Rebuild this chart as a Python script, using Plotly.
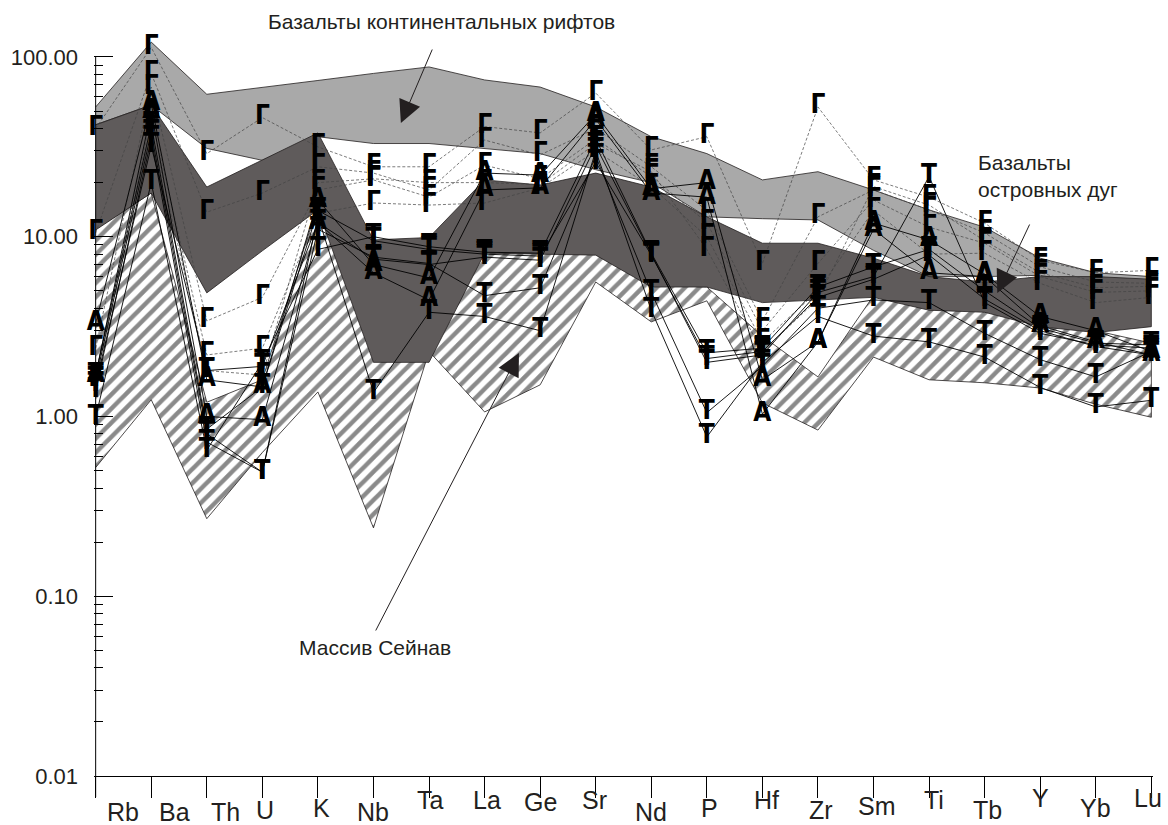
import plotly.graph_objects as go

# ---------------- data ----------------
ELEMENTS = ["Rb", "Ba", "Th", "U", "K", "Nb", "Ta", "La", "Ge", "Sr",
            "Nd", "P", "Hf", "Zr", "Sm", "Ti", "Tb", "Y", "Yb", "Lu"]

# Continental rift basalts field (light grey)
RIFT_HI = [52.7, 121, 62, 68, 74, 81, 88, 74.5, 68, 52.7, 36, 29, 20.7, 23, 18.2, 14.1, 11.3, 7.6, 6.3, 6.0]
RIFT_LO = [42, 54, 31, 26.6, 36, 33, 33, 31, 29, 23.6, 20, 12.9, 12.6, 12.4, 8.4, 6.0, 6.0, 6.1, 5.4, 5.2]

# Island arc basalts field (dark grey)
ARC_HI = [41.9, 54, 18.9, 26.6, 37.8, 9.6, 9.9, 20.7, 19.4, 22.6, 18.9, 12.9, 9.2, 9.2, 7.6, 6.0, 5.6, 6.0, 6.0, 5.8]
ARC_LO = [10.9, 17.5, 4.87, 8.35, 14.1, 2.0, 2.0, 8.1, 8.0, 7.9, 5.25, 5.25, 4.3, 4.45, 4.6, 3.9, 3.8, 3.16, 2.93, 3.16]

# Seinav massif field (hatched)
SEIN_HI = [11, 17.5, 1.2, 1.6, 15, 9, 9, 8.2, 8.1, 8.0, 5.4, 5.25, 2.8, 1.66, 4.7, 4.0, 3.9, 3.3, 3.0, 2.56]
SEIN_LO = [0.52, 1.24, 0.27, 0.63, 1.37, 0.24, 2.3, 1.06, 1.5, 5.6, 3.36, 4.4, 1.19, 0.84, 2.14, 1.6, 1.54, 1.44, 1.17, 0.99]

# Samples, group "Г"
G1 = [40, 113, 29, 46, 31.6, 24.5, 24.5, 41, 37.8, 63, 30.4, 36, 7.1, 52.7, 20.7, 16.6, 11.9, 7.4, 6.3, 6.5]
G2 = [10.5, 81, 13.7, 17.5, 24.5, 22.6, 18.2, 34.5, 28.5, 40, 24.5, 14, 3.4, 12.9, 18.2, 14.1, 10.5, 6.8, 5.6, 5.5]
G3 = [2.4, 68, 3.4, 4.6, 18.2, 20.7, 16.6, 25, 21, 35, 21.6, 12, 3.0, 7.1, 16, 11.3, 9.2, 6.0, 4.9, 5.0]
G4 = [1.7, 46, 2.2, 2.4, 13.5, 15.4, 15, 15.4, 18.7, 30, 19, 10, 2.6, 5.0, 14, 8.0, 8.1, 5.5, 4.3, 4.6]
G5 = [1.6, 40, 1.8, 1.7, 20, 21, 20, 20, 19.5, 33, 23, 8.5, 2.3, 4.5, 19, 15, 9.5, 6.3, 5.2, 5.3]
# Samples, group "А"
A1 = [3.3, 55, 1.6, 1.46, 16, 7.0, 5.9, 22.6, 22, 48, 18.5, 20, 1.6, 2.6, 11.9, 9.6, 6.2, 3.6, 3.0, 2.3]
A2 = [1.7, 50, 1.0, 0.96, 12, 6.3, 4.45, 18.2, 18.7, 45, 17.5, 16.6, 1.03, 2.6, 11.0, 6.3, 6.0, 3.2, 2.6, 2.2]
# Samples, group "Т"
T1 = [1.6, 38, 0.8, 0.49, 13, 1.36, 3.8, 3.6, 3.0, 30, 3.9, 0.77, 2.0, 3.6, 2.8, 2.6, 2.14, 1.45, 1.13, 1.23]
T2 = [1.4, 35, 0.72, 0.49, 11, 7.7, 7.1, 4.7, 5.2, 28, 4.9, 1.05, 1.9, 4.0, 4.45, 4.3, 2.9, 2.07, 1.66, 2.3]
T3 = [0.99, 20, 0.65, 2.0, 8.5, 10, 8.8, 8.2, 8.1, 35, 8.1, 2.26, 2.4, 5.25, 6.8, 8.5, 5.0, 3.1, 2.56, 2.5]
T4 = [1.5, 32, 1.8, 1.9, 12, 7.5, 7.0, 7.7, 7.4, 32, 8.0, 2.0, 2.2, 4.9, 6.0, 21.6, 4.3, 2.9, 2.5, 2.4]
T5 = [1.7, 42, 0.85, 1.46, 14, 9.5, 8.5, 8.0, 7.8, 26, 7.9, 2.1, 2.3, 4.6, 5.8, 7.9, 4.5, 3.0, 2.45, 2.2]

G_SAMPLES = [G1, G2, G3, G4, G5]
A_SAMPLES = [A1, A2]
T_SAMPLES = [T1, T2, T3, T4, T5]

Y_TICKS = [0.01, 0.1, 1, 10, 100]
Y_TICKTEXT = ["0.01", "0.10", "1.00", "10.00", "100.00"]

# ---------------- layout geometry ----------------
W, H = 1168, 825
ML, MR, MT, MB = 94.33, 15.4, 30, 49
PW, PH = W - ML - MR, H - MT - MB


def pxx(x):
    return (x - ML) / PW


def pyy(y):
    return 1 - (y - MT) / PH


X = list(range(len(ELEMENTS)))
fig = go.Figure()

EDGE = dict(color="#231f20", width=0.8)


def band(hi, lo, **kw):
    return go.Scatter(x=X + X[::-1], y=hi + lo[::-1], mode="lines", fill="toself",
                      line=EDGE, hoverinfo="skip", showlegend=False, **kw)


fig.add_trace(band(RIFT_HI, RIFT_LO, fillcolor="#a9a9a9"))
fig.add_trace(band(SEIN_HI, SEIN_LO, fillcolor="white",
                   fillpattern=dict(shape="/", size=10, solidity=0.45,
                                    fgcolor="#151515", bgcolor="white")))
fig.add_trace(band(ARC_HI, ARC_LO, fillcolor="#5f5b5b"))

MFONT = dict(family="DejaVu Sans Condensed, Liberation Sans Narrow, sans-serif",
             size=26, color="black", weight="bold")

for s in G_SAMPLES:
    fig.add_trace(go.Scatter(x=X, y=s, mode="lines", line=dict(color="#444444", width=0.7, dash="3px,2px"),
                             showlegend=False, hoverinfo="skip", cliponaxis=False))
for s in A_SAMPLES + T_SAMPLES:
    fig.add_trace(go.Scatter(x=X, y=s, mode="lines", line=dict(color="black", width=0.9),
                             showlegend=False, hoverinfo="skip", cliponaxis=False))
for group, letter in ((G_SAMPLES, "Г"), (A_SAMPLES, "А"), (T_SAMPLES, "Т")):
    for s in group:
        fig.add_trace(go.Scatter(x=X, y=s, mode="text", text=[letter] * len(X),
                                 textposition="middle center", textfont=MFONT,
                                 showlegend=False, hoverinfo="skip", cliponaxis=False))

# ---------------- axes ----------------
fig.update_xaxes(range=[-0.03, 19.03], tickvals=X, ticktext=[""] * len(X),
                 ticks="outside", ticklen=21, tickcolor="black", tickwidth=1,
                 showline=True, linecolor="black", linewidth=1,
                 showgrid=False, zeroline=False)
minor_vals = [m * 10 ** e for e in (-2, -1, 0, 1) for m in range(2, 10)]
fig.update_yaxes(type="log", range=[-2, 2.15], tickmode="array", tickvals=Y_TICKS,
                 ticktext=Y_TICKTEXT, ticks="inside", ticklen=19, tickcolor="black",
                 tickwidth=1, showline=False, showgrid=False, zeroline=False,
                 ticklabelstandoff=15,
                 tickfont=dict(family="Liberation Sans, Arial", size=22, color="#231f20"),
                 minor=dict(tickmode="array", tickvals=minor_vals, ticks="inside",
                            ticklen=9, tickcolor="black", tickwidth=1, showgrid=False))

# y axis line from 100 down past the x axis
fig.add_shape(type="line", xref="paper", yref="paper", x0=pxx(96), x1=pxx(96),
              y0=pyy(57), y1=pyy(797), line=dict(color="black", width=1))

# element labels
LABEL_DX = [0.5, 0.41, 0.34, 0.05, 0.07, 0, 0.02, 0.05, 0, -0.03,
            0, 0.05, 0.07, 0.05, 0.07, 0.08, 0.05, 0, 0, -0.06]
LABEL_Y = [812, 812, 812, 810, 808, 812, 800, 800, 802, 800,
           812, 808, 800, 810, 806, 800, 810, 798, 808, 798]
for i, name in enumerate(ELEMENTS):
    fig.add_annotation(x=i + LABEL_DX[i], y=pyy(LABEL_Y[i]), xref="x", yref="paper",
                       text=name, showarrow=False, xanchor="center", yanchor="middle",
                       font=dict(family="Liberation Sans, Arial", size=25, color="#231f20"))

TFONT = dict(family="Liberation Sans, Arial", size=21, color="#231f20")
fig.add_annotation(x=pxx(442), y=pyy(22), xref="paper", yref="paper", showarrow=False,
                   text="Базальты континентальных рифтов", font=TFONT, xanchor="center", yanchor="middle")
fig.add_annotation(x=pxx(976), y=pyy(176), xref="paper", yref="paper", showarrow=False,
                   text="Базальты<br>островных дуг", font=TFONT, xanchor="left", yanchor="middle",
                   align="left")
fig.add_annotation(x=pxx(375), y=pyy(647), xref="paper", yref="paper", showarrow=False,
                   text="Массив Сейнав", font=TFONT, xanchor="center", yanchor="middle")

# arrows (head position, tail offset in pixels)
for hx, hy, tx, ty in ((401, 123, 433, 48), (997, 293, 1030, 223), (519, 353, 375, 632)):
    fig.add_annotation(x=pxx(hx), y=pyy(hy), xref="paper", yref="paper", text="",
                       showarrow=True, arrowhead=2, arrowsize=4.5, arrowwidth=1,
                       arrowcolor="#231f20", ax=tx - hx, ay=ty - hy, standoff=0)

fig.update_layout(width=W, height=H, margin=dict(l=ML, r=MR, t=MT, b=MB, pad=0),
                  paper_bgcolor="white", plot_bgcolor="white", showlegend=False)

fig.write_html("out.html")
